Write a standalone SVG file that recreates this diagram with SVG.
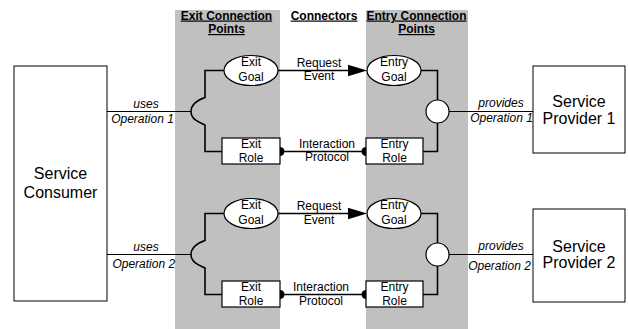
<svg xmlns="http://www.w3.org/2000/svg" width="628" height="329" viewBox="0 0 628 329">
<style>
.band{fill:#c0c0c0;stroke:none}
.box{fill:#fff;stroke:#000;stroke-width:1}
.node{fill:#fff;stroke:#000;stroke-width:1.2}
.ln{fill:none;stroke:#000;stroke-width:1.6}
.thin{fill:none;stroke:#000;stroke-width:1.2}
text{font-family:"Liberation Sans",Arial,sans-serif;fill:#000;text-anchor:middle}
.hd{font-size:12px;font-weight:bold;text-decoration:underline}
.t{font-size:12px}
.it{font-size:12px;font-style:italic}
.big{font-size:16px}
.dot{fill:#000}
</style>
<rect class="band" x="175" y="10" width="105" height="319"/>
<rect class="band" x="366" y="10" width="102" height="319"/>
<g id="headings">
<text class="hd" x="226.5" y="19.5">Exit Connection</text>
<text class="hd" x="226.5" y="33">Points</text>
<text class="hd" x="324" y="19.5">Connectors</text>
<text class="hd" x="416.5" y="19.5">Entry Connection</text>
<text class="hd" x="416.5" y="33">Points</text>
</g>
<g id="connectors">
<path class="thin" d="M107,111.5 H191"/>
<path class="ln" d="M224,70.5 H205 V97.5 C198,100 191,104 191,111.5 C191,119 198,122 205,125 V151.5 H222"/>
<path class="ln" d="M278,70.5 H349"/>
<polygon points="348,64.8 367,70.5 348,76.2" fill="#000"/>
<path class="ln" d="M280,151.5 H366"/>
<circle class="dot" cx="280" cy="151.5" r="4.5"/>
<circle class="dot" cx="366" cy="151.5" r="4.5"/>
<path class="ln" d="M421,70.5 H437.5 V100 M437.5,123 V151.5 H423"/>
<path class="thin" d="M449,111.5 H533"/>
<path class="thin" d="M107,254.5 H191"/>
<path class="ln" d="M224,213.5 H205 V240.5 C198,243 191,247 191,254.5 C191,262 198,265 205,268 V294.5 H222"/>
<path class="ln" d="M278,213.5 H349"/>
<polygon points="348,207.8 367,213.5 348,219.2" fill="#000"/>
<path class="ln" d="M280,294.5 H366"/>
<circle class="dot" cx="280" cy="294.5" r="4.5"/>
<circle class="dot" cx="366" cy="294.5" r="4.5"/>
<path class="ln" d="M421,213.5 H437.5 V243 M437.5,266 V294.5 H423"/>
<path class="thin" d="M449,254.5 H533"/>
<text class="it" x="146" y="108">uses</text>
<text class="it" x="142.5" y="123">Operation 1</text>
<text class="it" x="146" y="250.7">uses</text>
<text class="it" x="143.8" y="268.3">Operation 2</text>
<text class="it" x="501" y="107.3">provides</text>
<text class="it" x="501.5" y="121.7">Operation 1</text>
<text class="it" x="501" y="250">provides</text>
<text class="it" x="499.5" y="270">Operation 2</text>
<text class="t" x="319" y="66.5">Request</text>
<text class="t" x="319" y="80">Event</text>
<text class="t" x="327" y="147.5">Interaction</text>
<text class="t" x="327" y="161">Protocol</text>
<text class="t" x="319" y="209.7">Request</text>
<text class="t" x="319" y="224">Event</text>
<text class="t" x="321" y="291.3">Interaction</text>
<text class="t" x="321" y="304.7">Protocol</text>
</g>
<g id="consumer">
<rect class="box" x="14" y="66" width="93" height="235"/>
<text class="big" x="60.5" y="179.3">Service</text>
<text class="big" x="60.5" y="197.7">Consumer</text>
</g>
<g id="provider1">
<rect class="box" x="533" y="66" width="92" height="87"/>
<text class="big" x="579" y="106.5">Service</text>
<text class="big" x="579" y="124">Provider 1</text>
</g>
<g id="provider2">
<rect class="box" x="533" y="209" width="92" height="93"/>
<text class="big" x="579" y="251.7">Service</text>
<text class="big" x="579" y="268.3">Provider 2</text>
</g>
<g id="exitGoal1">
<ellipse class="node" cx="251" cy="70.5" rx="27" ry="15"/>
<text class="t" x="251" y="66">Exit</text>
<text class="t" x="251" y="80.5">Goal</text>
</g>
<g id="exitRole1">
<rect class="node" x="222" y="138" width="58" height="26"/>
<text class="t" x="251" y="148">Exit</text>
<text class="t" x="251" y="161.5">Role</text>
</g>
<g id="entryGoal1">
<ellipse class="node" cx="394" cy="70.5" rx="27" ry="15"/>
<text class="t" x="394" y="66">Entry</text>
<text class="t" x="394" y="80.5">Goal</text>
</g>
<g id="entryRole1">
<rect class="node" x="366" y="138" width="57" height="26"/>
<text class="t" x="394.5" y="148">Entry</text>
<text class="t" x="394.5" y="161.5">Role</text>
</g>
<g id="join1">
<circle class="node" cx="437.5" cy="111.5" r="11.5"/>
</g>
<g id="exitGoal2">
<ellipse class="node" cx="251" cy="213.5" rx="27" ry="15"/>
<text class="t" x="251" y="209">Exit</text>
<text class="t" x="251" y="223.5">Goal</text>
</g>
<g id="exitRole2">
<rect class="node" x="222" y="281" width="58" height="26"/>
<text class="t" x="251" y="291">Exit</text>
<text class="t" x="251" y="304.5">Role</text>
</g>
<g id="entryGoal2">
<ellipse class="node" cx="394" cy="213.5" rx="27" ry="15"/>
<text class="t" x="394" y="209">Entry</text>
<text class="t" x="394" y="223.5">Goal</text>
</g>
<g id="entryRole2">
<rect class="node" x="366" y="281" width="57" height="26"/>
<text class="t" x="394.5" y="291">Entry</text>
<text class="t" x="394.5" y="304.5">Role</text>
</g>
<g id="join2">
<circle class="node" cx="437.5" cy="254.5" r="11.5"/>
</g>
</svg>
